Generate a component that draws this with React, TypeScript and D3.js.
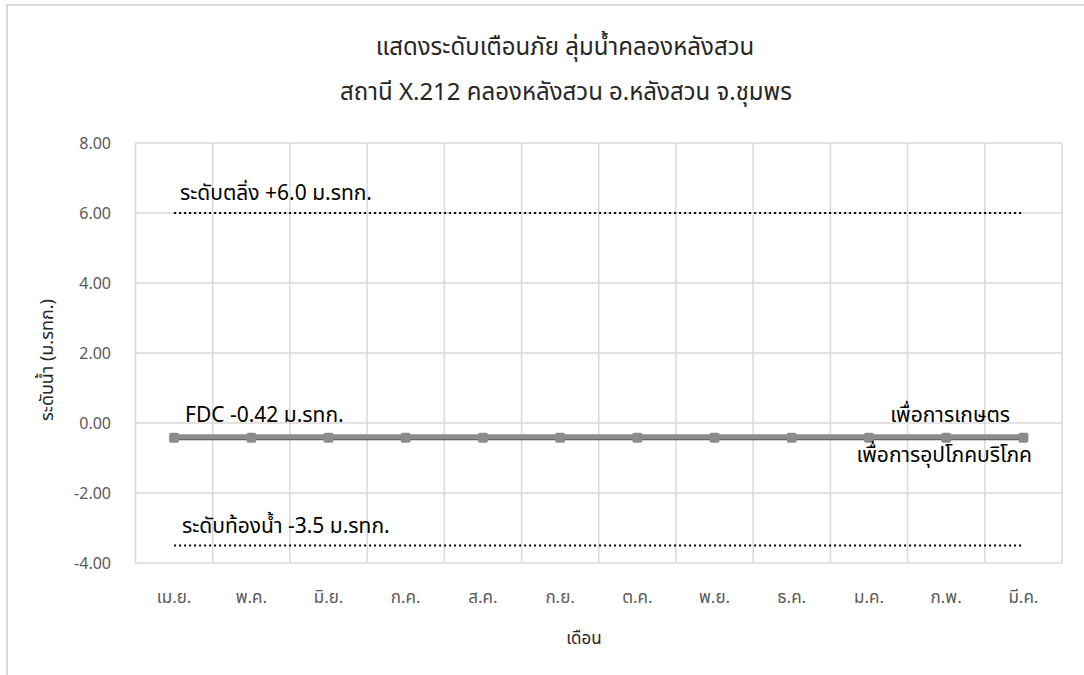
import React from "react";
import * as d3 from "d3";

const months = ["เม.ย.", "พ.ค.", "มิ.ย.", "ก.ค.", "ส.ค.", "ก.ย.", "ต.ค.", "พ.ย.", "ธ.ค.", "ม.ค.", "ก.พ.", "มี.ค."];
const consumption = [-0.42, -0.42, -0.42, -0.42, -0.42, -0.42, -0.42, -0.42, -0.42, -0.42, -0.42, -0.42];
const agriculture = [-0.42, -0.42, -0.42, -0.42, -0.42, -0.42, -0.42, -0.42, -0.42, -0.42, -0.42, -0.42];
const bankLevel = 6.0;
const bedLevel = -3.5;
const yTicks = [-4, -2, 0, 2, 4, 6, 8];

const W = 1084;
const H = 675;
const M = { left: 135.5, right: 1062, top: 143, bottom: 563 };
const FONT = "'Noto Sans', 'Noto Sans Thai', Tahoma, sans-serif";

export default function App() {
  const x = d3.scaleBand<string>().domain(months).range([M.left, M.right]);
  const y = d3.scaleLinear().domain([-4, 8]).range([M.bottom, M.top]);
  const cx = (m: string) => (x(m) as number) + x.bandwidth() / 2;
  const line = d3
    .line<number>()
    .x((_, i) => cx(months[i]))
    .y((d) => y(d));
  const first = cx(months[0]);
  const last = cx(months[months.length - 1]);
  const bounds = [...months.map((m) => x(m) as number), M.right];

  return (
    <svg width={W} height={H} style={{ position: "absolute", left: 0, top: 0, fontFamily: FONT }}>
      <rect x={0} y={0} width={W} height={H} fill="#fff" />
      <rect x={7} y={5} width={W + 20} height={H + 20} fill="#fff" stroke="#d9d9d9" strokeWidth={2} />
      <text x={565} y={55} textAnchor="middle" fontSize={24} fill="#262626">
        แสดงระดับเตือนภัย ลุ่มน้ำคลองหลังสวน
      </text>
      <text x={566} y={100} textAnchor="middle" fontSize={24} fill="#262626">
        สถานี X.212 คลองหลังสวน อ.หลังสวน จ.ชุมพร
      </text>
      {yTicks.map((t) => (
        <g key={t}>
          <line x1={M.left} x2={M.right} y1={y(t)} y2={y(t)} stroke="#d9d9d9" strokeWidth={1.5} />
          <text x={111} y={y(t)} dy="0.35em" textAnchor="end" fontSize={16} fill="#595959">
            {t.toFixed(2)}
          </text>
        </g>
      ))}
      {bounds.map((b, i) => (
        <line key={i} x1={b} x2={b} y1={M.top} y2={M.bottom} stroke="#d9d9d9" strokeWidth={1.5} />
      ))}
      {months.map((m) => (
        <text key={m} x={cx(m)} y={597} dy="0.35em" textAnchor="middle" fontSize={17} fill="#595959">
          {m}
        </text>
      ))}
      <text x={584} y={638} dy="0.35em" textAnchor="middle" fontSize={17} fill="#262626">
        เดือน
      </text>
      <text
        transform={`translate(47,${360}) rotate(-90)`}
        textAnchor="middle"
        dy="0.35em"
        fontSize={18}
        fill="#262626"
      >
        ระดับน้ำ (ม.รทก.)
      </text>
      <line x1={first} x2={last} y1={y(bankLevel)} y2={y(bankLevel)} stroke="#000" strokeWidth={2} strokeDasharray="2 3" />
      <line x1={first} x2={last} y1={y(bedLevel)} y2={y(bedLevel)} stroke="#000" strokeWidth={2} strokeDasharray="2 3" />
      <path d={line(consumption) || ""} fill="none" stroke="#595959" strokeWidth={5} />
      <path d={line(agriculture) || ""} fill="none" stroke="#8c8c8c" strokeWidth={5} transform="translate(0,-1)" />
      {agriculture.map((v, i) => (
        <rect key={i} x={cx(months[i]) - 5} y={y(v) - 5} width={10} height={10} rx={2} fill="#8c8c8c" />
      ))}
      <text x={180} y={y(bankLevel) - 13} fontSize={21} fill="#000">
        ระดับตลิ่ง +6.0 ม.รทก.
      </text>
      <text x={185} y={y(consumption[0]) - 16} fontSize={21} fill="#000">
        FDC -0.42 ม.รทก.
      </text>
      <text x={182} y={y(bedLevel) - 13} fontSize={21} fill="#000">
        ระดับท้องน้ำ -3.5 ม.รทก.
      </text>
      <text x={1010} y={y(agriculture[11]) - 16} textAnchor="end" fontSize={21} fill="#000">
        เพื่อการเกษตร
      </text>
      <text x={1032} y={y(consumption[11]) + 24} textAnchor="end" fontSize={21} fill="#000">
        เพื่อการอุปโภคบริโภค
      </text>
    </svg>
  );
}
